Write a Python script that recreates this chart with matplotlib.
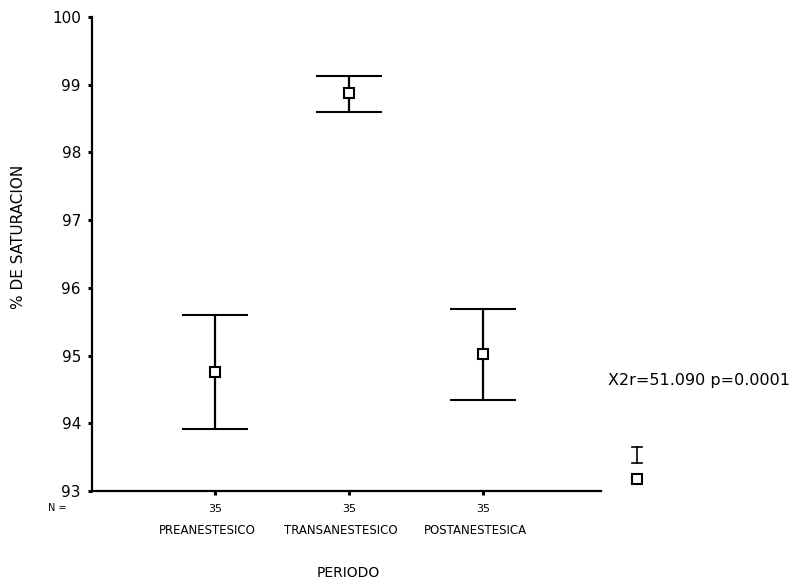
import matplotlib.pyplot as plt
from matplotlib.lines import Line2D

plt.rcParams['font.family'] = ['DejaVu Sans']

# datos
periodos = ["PREANESTESICO", "TRANSANESTESICO", "POSTANESTESICA"]
n_casos = [35, 35, 35]
media = [94.76, 98.88, 95.02]
lim_sup = [95.60, 99.13, 95.69]
lim_inf = [93.91, 98.59, 94.34]

x = [1, 2, 3]
err_abajo = [m - b for m, b in zip(media, lim_inf)]
err_arriba = [a - m for a, m in zip(lim_sup, media)]

fig = plt.figure(figsize=(7.93, 5.86), dpi=100)
ax = fig.add_axes([0.116, 0.162, 0.642, 0.809])

ax.errorbar(x, media, yerr=[err_abajo, err_arriba], fmt='s', color='black',
            mfc='white', mec='black', ms=7, mew=1.5, elinewidth=1.6,
            capsize=24, capthick=1.4)

ax.set_xlim(0.08, 3.88)
ax.set_ylim(93, 100)
ax.set_yticks(range(93, 101))
ax.set_xticks(x)
ax.set_xticklabels([])
ax.tick_params(axis='y', labelsize=11, length=3, width=2.2, pad=5,
               direction='out')
ax.tick_params(axis='x', length=3, width=2.2, direction='out')

for s in ['top', 'right']:
    ax.spines[s].set_visible(False)
ax.spines['left'].set_linewidth(1.6)
ax.spines['bottom'].set_linewidth(1.6)

# N = y nombres de periodo debajo del eje
ax.text(-0.18, 92.75, "N =", fontsize=7, ha='center', va='center')
for xi, n, p in zip(x, n_casos, periodos):
    ax.text(xi, 92.73, str(n), fontsize=8, ha='center', va='center')
    ax.text(xi - 0.06, 92.42, p, fontsize=8.5, ha='center', va='center')

ax.set_xlabel("PERIODO", fontsize=10)
ax.xaxis.set_label_coords((348 - 92) / 509, -(566 - 491) / 474)
ax.set_ylabel("% DE SATURACION", fontsize=11)
ax.yaxis.set_label_coords(-(92 - 26) / 509, (491 - 237) / 474)

# leyenda a la derecha
fig.text(608 / 793, 1 - 380 / 586, "X2r=51.090 p=0.0001", fontsize=11.5,
         ha='left', va='center')
lx = 637 / 793
fig.add_artist(Line2D([lx, lx], [1 - 447 / 586, 1 - 463 / 586],
                      color='black', lw=1.2))
fig.add_artist(Line2D([lx - 0.006, lx + 0.006], [1 - 447 / 586] * 2,
                      color='black', lw=1.2))
fig.add_artist(Line2D([lx - 0.006, lx + 0.006], [1 - 463 / 586] * 2,
                      color='black', lw=1.2))
fig.add_artist(Line2D([lx], [1 - 479 / 586], marker='s', ms=7, mfc='white',
                      mec='black', mew=1.5, ls='none'))

fig.savefig("out.png", dpi=100)
